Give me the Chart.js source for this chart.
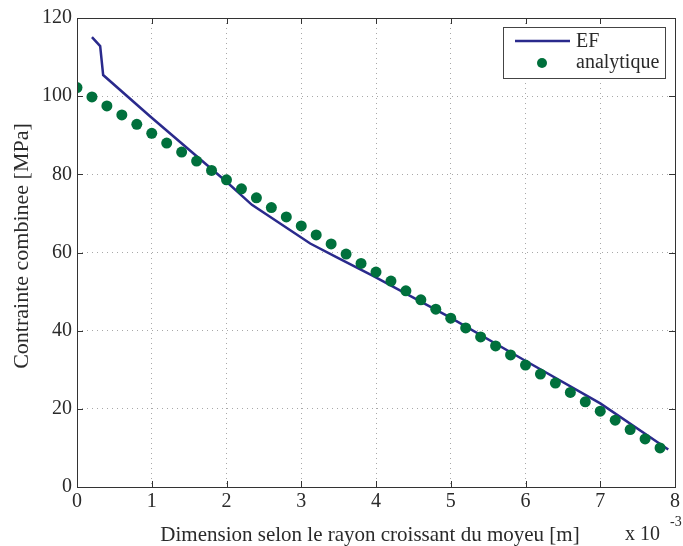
<!DOCTYPE html>
<html><head><meta charset="utf-8">
<script src="https://cdn.jsdelivr.net/npm/chart.js@4/dist/chart.umd.min.js"></script>
<style>html,body{margin:0;padding:0;background:#fff;}#wrap{width:683px;height:546px;}</style>
</head><body><div id="wrap"><canvas id="c" width="683" height="546"></canvas></div>
<script>
const efX = [0.2, 0.31, 0.35, 0.98, 2.0, 2.34, 3.12, 3.47, 3.96, 4.99, 5.98, 7.0, 7.91];
const efY = [115.1, 112.8, 105.4, 94.8, 78.1, 72.2, 62.3, 58.8, 54.0, 43.4, 32.5, 21.4, 9.6];
const anX = [0,0.2,0.4,0.6,0.8,1.0,1.2,1.4,1.6,1.8,2.0,2.2,2.4,2.6,2.8,3.0,3.2,3.4,3.6,3.8,4.0,4.2,4.4,4.6,4.8,5.0,5.2,5.4,5.6,5.8,6.0,6.2,6.4,6.6,6.8,7.0,7.2,7.4,7.6,7.8];
const anY = [102.2,99.8,97.5,95.2,92.8,90.5,88.0,85.7,83.4,81.0,78.6,76.3,74.0,71.5,69.1,66.8,64.5,62.2,59.6,57.2,55.0,52.7,50.2,47.9,45.5,43.2,40.7,38.4,36.1,33.8,31.2,28.9,26.6,24.2,21.8,19.4,17.1,14.7,12.3,10.0];
const seriesNames = ['EF', 'analytique'];
const xTitle = 'Dimension selon le rayon croissant du moyeu [m]';
const yTitle = 'Contrainte combinee [MPa]';
const xExp = 'x 10';
const xExpSup = '-3';

const FONT = '"Liberation Serif", "Times New Roman", serif';
const LINE_COLOR = '#2a2a8c';
const DOT_COLOR = '#00703c';
const TXT = '#2a2a2a';

const decor = {
  id: 'decor',
  afterDraw(chart) {
    const ctx = chart.ctx, a = chart.chartArea;
    const xs = chart.scales.x, ys = chart.scales.y;
    ctx.save();
    ctx.strokeStyle = '#333'; ctx.lineWidth = 1;
    ctx.strokeRect(Math.round(a.left)+0.5, Math.round(a.top)+0.5, Math.round(a.right-a.left), Math.round(a.bottom-a.top));
    ctx.beginPath();
    xs.ticks.forEach(t => {
      const px = Math.round(xs.getPixelForValue(t.value))+0.5;
      ctx.moveTo(px, a.bottom); ctx.lineTo(px, a.bottom-6);
      ctx.moveTo(px, a.top); ctx.lineTo(px, a.top+6);
    });
    ys.ticks.forEach(t => {
      const py = Math.round(ys.getPixelForValue(t.value))+0.5;
      ctx.moveTo(a.left, py); ctx.lineTo(a.left+6, py);
      ctx.moveTo(a.right, py); ctx.lineTo(a.right-6, py);
    });
    ctx.stroke();
    ctx.fillStyle = TXT;
    ctx.font = '21px ' + FONT;
    ctx.textAlign = 'center'; ctx.textBaseline = 'middle';
    ctx.fillText(xTitle, 370, 535);
    ctx.font = '20px ' + FONT;
    ctx.textAlign = 'left';
    ctx.fillText(xExp, 625, 535);
    ctx.font = '14px ' + FONT;
    ctx.fillText(xExpSup, 670, 522);
    ctx.save();
    ctx.translate(22, 246); ctx.rotate(-Math.PI/2);
    ctx.font = '22px ' + FONT; ctx.textAlign = 'center';
    ctx.fillText(yTitle, 0, 0);
    ctx.restore();
    ctx.fillStyle = '#fff';
    ctx.fillRect(503.5, 27.5, 162, 51);
    ctx.strokeStyle = '#444';
    ctx.strokeRect(503.5, 27.5, 162, 51);
    ctx.strokeStyle = LINE_COLOR; ctx.lineWidth = 2.5;
    ctx.beginPath(); ctx.moveTo(515, 41); ctx.lineTo(570, 41); ctx.stroke();
    ctx.fillStyle = DOT_COLOR;
    ctx.beginPath(); ctx.arc(542, 63, 5, 0, Math.PI*2); ctx.fill();
    ctx.fillStyle = TXT; ctx.font = '20px ' + FONT; ctx.textAlign = 'left';
    ctx.fillText(seriesNames[0], 576, 42);
    ctx.fillText(seriesNames[1], 576, 63);
    ctx.restore();
  }
};

new Chart(document.getElementById('c'), {
  type: 'scatter',
  data: {
    datasets: [
      {
        label: seriesNames[0],
        data: efX.map((x, i) => ({x, y: efY[i]})),
        showLine: true, borderColor: LINE_COLOR, borderWidth: 2.5,
        pointRadius: 0, fill: false, tension: 0, order: 2
      },
      {
        label: seriesNames[1],
        data: anX.map((x, i) => ({x, y: anY[i]})),
        showLine: false, backgroundColor: DOT_COLOR, borderColor: DOT_COLOR,
        pointRadius: 5.5, pointBorderWidth: 0, order: 1
      }
    ]
  },
  options: {
    responsive: false, animation: false, devicePixelRatio: 1,
    layout: { padding: { top: 18, right: 8, left: 0, bottom: 0 } },
    plugins: { legend: { display: false }, tooltip: { enabled: false } },
    scales: {
      x: {
        type: 'linear', min: 0, max: 8,
        afterFit(s) { s.height = 59; },
        ticks: { stepSize: 1, color: TXT, font: { family: FONT, size: 20 }, padding: 3 },
        grid: { color: '#a8a8a8', lineWidth: 1, drawTicks: false },
        border: { display: false, dash: [1, 4] }
      },
      y: {
        type: 'linear', min: 0, max: 120,
        afterFit(s) { s.width = 77; },
        ticks: { stepSize: 20, color: TXT, font: { family: FONT, size: 20 }, padding: 5 },
        grid: { color: '#a8a8a8', lineWidth: 1, drawTicks: false },
        border: { display: false, dash: [1, 4] }
      }
    }
  },
  plugins: [decor]
});
</script></body></html>
